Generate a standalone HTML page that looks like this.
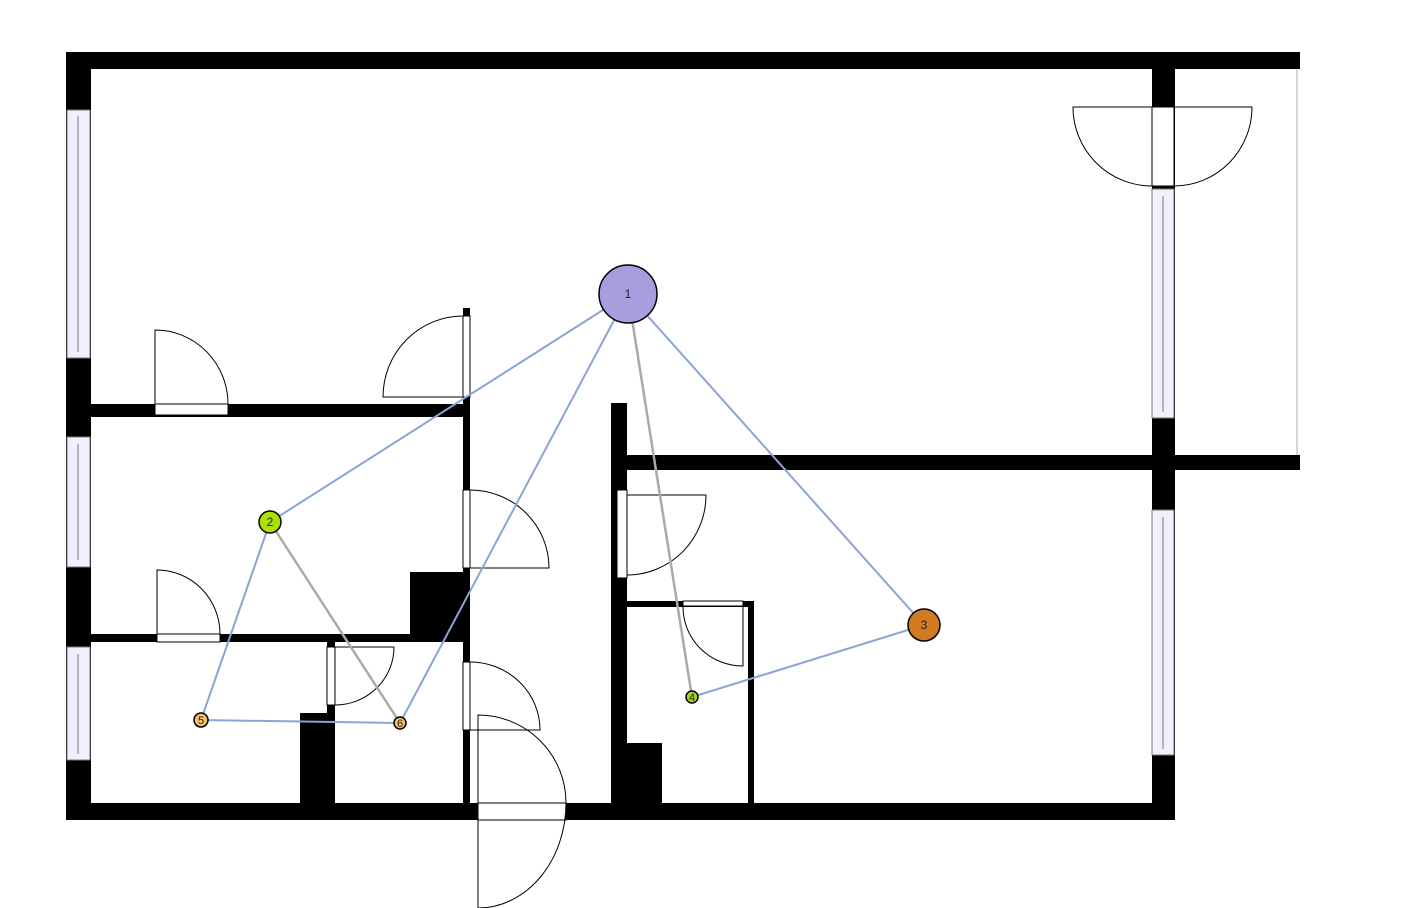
<!DOCTYPE html>
<html><head><meta charset="utf-8"><style>
html,body{margin:0;padding:0;background:#fff;}
svg{display:block;font-family:"Liberation Sans",sans-serif;}
</style></head><body>
<svg id="plan" width="1404" height="908" viewBox="0 0 1404 908">
<g fill="#000">
  <rect x="66" y="52" width="1234" height="17"/>
  <rect x="66" y="52" width="25" height="768"/>
  <rect x="66" y="803" width="1108" height="17"/>
  <rect x="1152" y="52" width="23" height="768"/>
  <rect x="611" y="455" width="689" height="15"/>
  <rect x="91" y="404" width="372" height="13"/>
  <rect x="91" y="634" width="372" height="8"/>
  <rect x="463" y="308" width="7" height="495"/>
  <rect x="410" y="572" width="53" height="62"/>
  <rect x="327" y="642" width="8" height="161"/>
  <rect x="300" y="713" width="35" height="90"/>
  <rect x="611" y="403" width="16" height="400"/>
  <rect x="627" y="601" width="127" height="6"/>
  <rect x="748" y="601" width="6" height="202"/>
  <rect x="627" y="743" width="35" height="60"/>
</g>
<line x1="1297" y1="69" x2="1297" y2="455" stroke="#ccc" stroke-width="1.5"/>
<g fill="#f0f0fc" stroke="#777" stroke-width="1">
  <rect x="67" y="110" width="23" height="248"/>
  <line x1="78" y1="116" x2="78" y2="352"/>
  <rect x="67" y="437" width="23" height="130"/>
  <line x1="78" y1="444" x2="78" y2="560"/>
  <rect x="67" y="647" width="23" height="113"/>
  <line x1="78" y1="654" x2="78" y2="754"/>
  <rect x="1152" y="189" width="22" height="229"/>
  <line x1="1163" y1="196" x2="1163" y2="412"/>
  <rect x="1152" y="510" width="22" height="245"/>
  <line x1="1163" y1="517" x2="1163" y2="749"/>
</g>
<g fill="#fff" stroke="#000" stroke-width="1">
  <rect x="155" y="404" width="73" height="11"/>
  <rect x="157" y="634" width="63" height="8"/>
  <rect x="463" y="316" width="7" height="81"/>
  <rect x="463" y="490" width="7" height="78"/>
  <rect x="463" y="662" width="7" height="68"/>
  <rect x="327" y="647" width="8" height="58"/>
  <rect x="478" y="803" width="88" height="17"/>
  <rect x="617" y="490" width="10" height="88"/>
  <rect x="683" y="601" width="60" height="5"/>
  <rect x="1152" y="107" width="22" height="79"/>
</g>
<g fill="none" stroke="#000" stroke-width="1">
  <path d="M155 404 V330 A73 74 0 0 1 228 404"/>
  <path d="M157 634 V570 A63 64 0 0 1 220 634"/>
  <path d="M463 397 H383 A80 81 0 0 1 463 316"/>
  <path d="M470 568 H549 A79 78 0 0 0 470 490"/>
  <path d="M470 730 H540 A70 68 0 0 0 470 662"/>
  <path d="M335 647 H394 A59 58 0 0 1 335 705"/>
  <path d="M478 908 V715 A88 88 0 0 1 566 803 A88 105 0 0 1 478 908"/>
  <path d="M627 495 H706 A79 80 0 0 1 627 575"/>
  <path d="M743 607 V666 A60 59 0 0 1 683 607"/>
  <path d="M1152 107 H1073 A79 79 0 0 0 1152 186"/>
  <path d="M1174 107 H1252 A78 79 0 0 1 1174 186"/>
</g>
<g id="links"></g>
<g id="nodes"></g>
</svg>
<script>
const nodeIds = [1, 2, 3, 4, 5, 6];
const nodeX = [628, 270, 924, 692, 201, 400];
const nodeY = [294, 522, 625, 697, 720, 723];
const nodeR = [29, 11, 16, 6, 7, 6];
const nodeColors = ["#a99cdf", "#aee000", "#d07a22", "#a6d81d", "#f7bf66", "#f7bf66"];
const linkFrom = [1, 1, 1, 3, 2, 5, 1, 2];
const linkTo = [2, 6, 3, 4, 5, 6, 4, 6];
const linkKind = ["blue", "blue", "blue", "blue", "blue", "blue", "grey", "grey"];
const NS = "http://www.w3.org/2000/svg";
const linkG = document.getElementById("links");
const nodeG = document.getElementById("nodes");
function idx(id){ return nodeIds.indexOf(id); }
for (let i = 0; i < linkFrom.length; i++) {
  const a = idx(linkFrom[i]), b = idx(linkTo[i]);
  const l = document.createElementNS(NS, "line");
  l.setAttribute("x1", nodeX[a]); l.setAttribute("y1", nodeY[a]);
  l.setAttribute("x2", nodeX[b]); l.setAttribute("y2", nodeY[b]);
  l.setAttribute("stroke", linkKind[i] === "blue" ? "#8aa4d3" : "#aaaaaa");
  l.setAttribute("stroke-width", linkKind[i] === "blue" ? 2 : 2.5);
  
  
  linkG.appendChild(l);
}
for (let i = 0; i < nodeIds.length; i++) {
  const g = document.createElementNS(NS, "g");
  
  
  const c = document.createElementNS(NS, "circle");
  c.setAttribute("cx", nodeX[i]); c.setAttribute("cy", nodeY[i]); c.setAttribute("r", nodeR[i]);
  c.setAttribute("fill", nodeColors[i]); c.setAttribute("stroke", "#000"); c.setAttribute("stroke-width", 1.5);
  
  
  g.appendChild(c);
  const t = document.createElementNS(NS, "text");
  t.setAttribute("x", nodeX[i]); t.setAttribute("y", nodeY[i] + 4);
  t.setAttribute("text-anchor", "middle");
  t.setAttribute("font-size", nodeR[i] < 8 ? 11 : 12);
  t.setAttribute("fill", "#222");
  t.textContent = nodeIds[i];
  
  
  g.appendChild(t);
  nodeG.appendChild(g);
}
</script>
</body></html>
